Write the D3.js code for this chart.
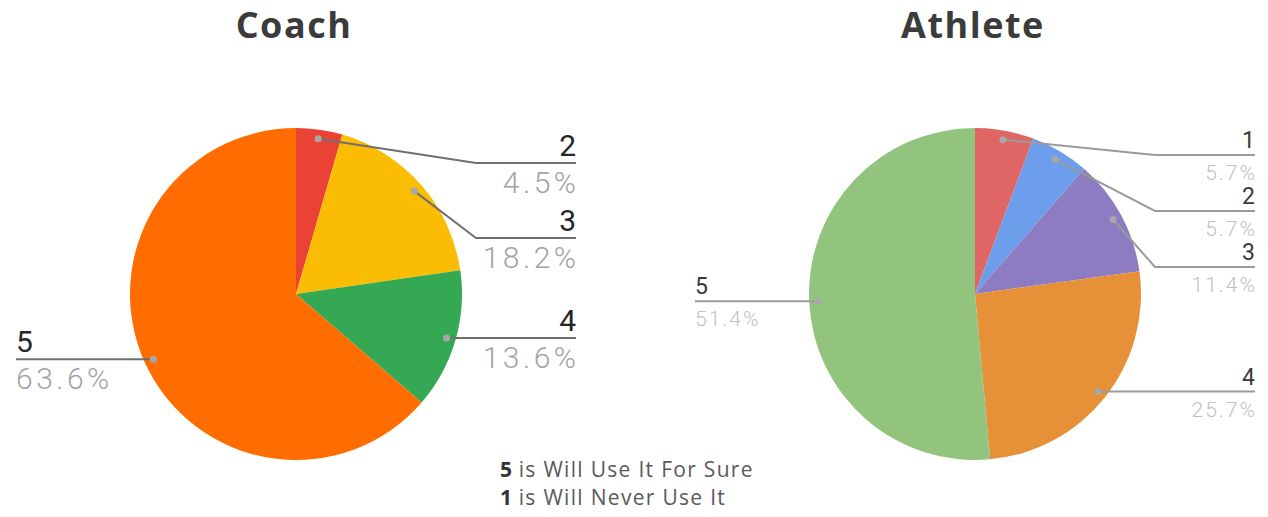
<!DOCTYPE html>
<html>
<head>
<meta charset="utf-8">
<script src="https://cdn.jsdelivr.net/npm/d3@7"></script>
<style>
  html, body { margin: 0; padding: 0; background: #fff; }
  svg { display: block; }
</style>
</head>
<body>
<svg id="chart" width="1268" height="517"></svg>
<script>
// Survey answers on a 1–5 scale, share of respondents (%)
const coachCategories = ["2", "3", "4", "5"];
const coachValues = [4.5, 18.2, 13.6, 63.6];
const athleteCategories = ["1", "2", "3", "4", "5"];
const athleteValues = [5.7, 5.7, 11.4, 25.7, 51.4];
const chartTitles = ["Coach", "Athlete"];
const noteLines = [["5", " is Will Use It For Sure"], ["1", " is Will Never Use It"]];

// Slice colours keyed by answer
const coachPalette = { "2": "#ea4335", "3": "#fbbc04", "4": "#34a853", "5": "#ff6d01" };
const athletePalette = { "1": "#e06666", "2": "#6d9eeb", "3": "#8e7cc3", "4": "#e69138", "5": "#93c47d" };

const svg = d3.select("#chart");

const charts = [
  { title: chartTitles[0], cats: coachCategories, vals: coachValues, palette: coachPalette,
    cx: 296, cy: 294, r: 166, font: 30, numFont: 30, pctDy: 30, numDy: -7, gap: 75, topPad: 35,
    lineColor: "#6f6f6f", pctColor: "#a3a3a3", numColor: "#262626", spacing: 3.5 },
  { title: chartTitles[1], cats: athleteCategories, vals: athleteValues, palette: athletePalette,
    cx: 975, cy: 294, r: 166, font: 21, numFont: 23, pctDy: 25, numDy: -7, gap: 56, topPad: 27,
    lineColor: "#9a9a9a", pctColor: "#c0c0c0", numColor: "#3a3a3a", spacing: 2 }
];

charts.forEach(c => {
  const g = svg.append("g").attr("transform", `translate(${c.cx},${c.cy})`);

  // Title
  svg.append("text")
    .attr("x", c.cx - 2).attr("y", 38)
    .attr("text-anchor", "middle")
    .attr("font-family", "'Open Sans', sans-serif")
    .attr("font-weight", 700)
    .attr("font-size", 36)
    .attr("letter-spacing", 1.5)
    .attr("fill", "#3b3b3b")
    .text(c.title);

  const data = c.cats.map((k, i) => ({ key: k, value: c.vals[i] }));
  const pie = d3.pie().sort(null).value(d => d.value);
  const arcs = pie(data);
  const arc = d3.arc().innerRadius(0).outerRadius(c.r);
  const dotArc = d3.arc().innerRadius(c.r * 0.945).outerRadius(c.r * 0.945);

  g.selectAll("path.slice").data(arcs).join("path")
    .attr("class", "slice")
    .attr("d", arc)
    .attr("fill", d => c.palette[d.data.key]);

  // Label layout: right-hand labels stack downward, never above the pie top
  const items = arcs.map(d => {
    const mid = (d.startAngle + d.endAngle) / 2;
    const [dx, dy] = dotArc.centroid(d);
    return { d, mid, dx, dy, right: mid < Math.PI };
  });
  const rightItems = items.filter(it => it.right).sort((a, b) => a.dy - b.dy);
  let prev = -Infinity;
  rightItems.forEach(it => {
    it.ly = Math.max(it.dy, prev + c.gap, -c.r + c.topPad);
    prev = it.ly;
  });
  const leftItems = items.filter(it => !it.right).sort((a, b) => b.dy - a.dy);
  prev = Infinity;
  leftItems.forEach(it => {
    it.ly = Math.min(it.dy, prev - c.gap);
    prev = it.ly;
  });

  const reach = 280;
  const elbow = 100;
  items.forEach(it => {
    const endX = it.right ? reach : -reach;
    const pts = it.right
      ? [[it.dx, it.dy], [Math.max(it.dx, endX - elbow), it.ly], [endX, it.ly]]
      : [[it.dx, it.dy], [Math.min(it.dx, endX + elbow), it.ly], [endX, it.ly]];
    g.append("path")
      .attr("d", d3.line()(pts))
      .attr("fill", "none")
      .attr("stroke", c.lineColor)
      .attr("stroke-width", 2);
    g.append("circle")
      .attr("cx", it.dx).attr("cy", it.dy).attr("r", 3.5)
      .attr("fill", "#a8a8a8");

    const anchor = it.right ? "end" : "start";
    g.append("text")
      .attr("x", endX).attr("y", it.ly + c.numDy)
      .attr("text-anchor", anchor)
      .attr("font-family", "Roboto, sans-serif")
      .attr("font-size", c.numFont)
      .attr("fill", c.numColor)
      .text(it.d.data.key);
    g.append("text")
      .attr("x", endX + (it.right ? c.spacing : 0)).attr("y", it.ly + c.pctDy)
      .attr("text-anchor", anchor)
      .attr("font-family", "Roboto, sans-serif")
      .attr("font-weight", 300)
      .attr("font-size", c.font)
      .attr("letter-spacing", c.spacing)
      .attr("fill", c.pctColor)
      .text(d3.format(".1f")(it.d.data.value) + "%");
  });
});

// Scale note
const note = svg.append("g");
noteLines.forEach((ln, i) => {
  const t = note.append("text")
    .attr("x", 500).attr("y", 477 + i * 28)
    .attr("font-family", "'Open Sans', sans-serif")
    .attr("font-size", 21)
    .attr("letter-spacing", 1.3)
    .attr("fill", "#5a5a5a");
  t.append("tspan").attr("font-weight", 700).attr("fill", "#333").attr("letter-spacing", 0).text(ln[0]);
  t.append("tspan").text(ln[1]);
});
</script>
</body>
</html>
